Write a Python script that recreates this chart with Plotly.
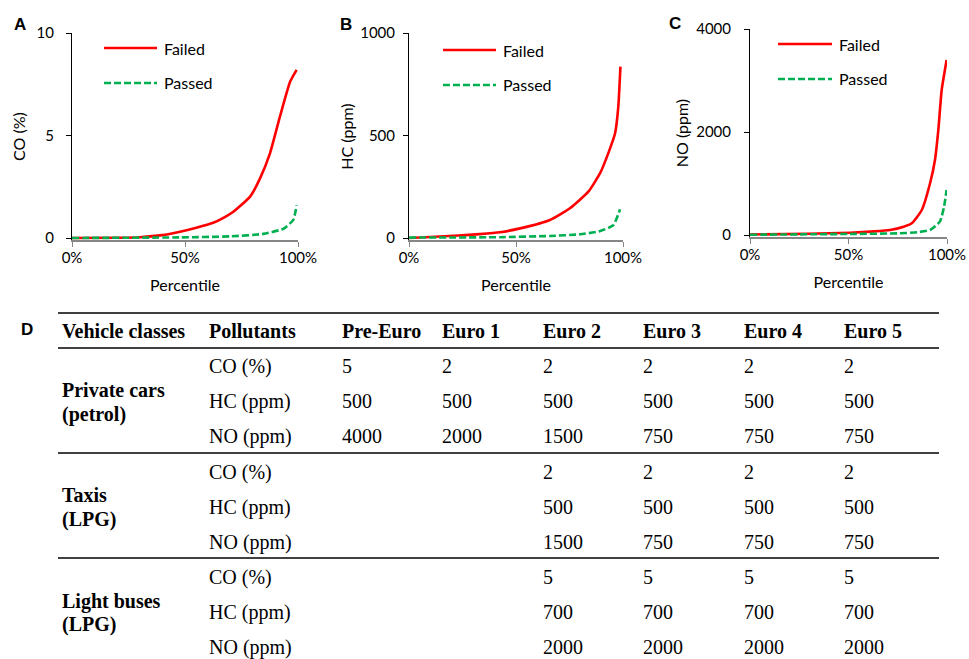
import plotly.graph_objects as go

# ---------------- data ----------------
pct_co_failed = [0, 20, 30, 40, 47.8, 55, 62.5, 67, 71.4, 78.8, 83.2, 87.6, 92, 96.5, 99.4]
co_failed = [0, 0.01, 0.04, 0.14, 0.31, 0.5, 0.74, 0.98, 1.28, 2.02, 2.91, 4.13, 5.92, 7.62, 8.2]
pct_co_passed = [0, 47.8, 70, 84.7, 93.5, 97.9, 99.4]
co_passed = [0, 0.03, 0.08, 0.2, 0.45, 0.88, 1.6]

pct_hc_failed = [0, 10, 23, 33, 42.5, 51.9, 65.9, 75.2, 83.8, 89.3, 93.1, 96.3, 97.8, 98.8]
hc_failed = [0, 5, 12, 19, 28, 47, 88, 145, 226, 316, 413, 511, 640, 836]
pct_hc_passed = [0, 42.5, 65.9, 80, 89.3, 95.5, 98.6]
hc_passed = [2, 4, 10, 18, 34, 63, 140]

pct_no_failed = [0, 30, 50.8, 63, 71.1, 78, 82.1, 87.2, 91.4, 93.9, 95.6, 97.3, 99.8]
no_failed = [10, 25, 45, 70, 97, 160, 227, 485, 1004, 1456, 2039, 2816, 3398]
pct_no_passed = [0, 50.8, 76, 85, 91.4, 96.4, 98.5, 99.8]
no_passed = [5, 20, 33, 55, 97, 259, 550, 874]

series_names = ["Failed", "Passed"]
x_tick_vals = [0, 50, 100]
x_tick_text = ["0%", "50%", "100%"]

# table
table_header = ["Vehicle classes", "Pollutants", "Pre-Euro", "Euro 1", "Euro 2", "Euro 3", "Euro 4", "Euro 5"]
vehicle_classes = [["Private cars", "(petrol)"], ["Taxis", "(LPG)"], ["Light buses", "(LPG)"]]
pollutants = ["CO (%)", "HC (ppm)", "NO (ppm)"]
limits_private = [["5", "2", "2", "2", "2", "2"],
                  ["500", "500", "500", "500", "500", "500"],
                  ["4000", "2000", "1500", "750", "750", "750"]]
limits_taxis = [["", "", "2", "2", "2", "2"],
                ["", "", "500", "500", "500", "500"],
                ["", "", "1500", "750", "750", "750"]]
limits_buses = [["", "", "5", "5", "5", "5"],
                ["", "", "700", "700", "700", "700"],
                ["", "", "2000", "2000", "2000", "2000"]]

# ---------------- layout helpers ----------------
W, H = 969, 659
def fx(p): return p / W
def fy(p): return 1 - p / H

RED = "#ff0000"
GREEN = "#00b050"
SANS = "Lato"
SERIF = "Liberation Serif"

fig = go.Figure()

panels = [
    dict(letter="A", letter_xy=(19.5, 25), x_px=(72, 298), top_px=33, zero_px=238,
         ymax=10, yticks=[0, 5, 10], ytitle="CO (%)", tstand=9, standoff=6,
         data=[(pct_co_failed, co_failed), (pct_co_passed, co_passed)],
         leg=(104, 157, 48, 83)),
    dict(letter="B", letter_xy=(346, 25), x_px=(409, 623), top_px=33, zero_px=238,
         ymax=1000, yticks=[0, 500, 1000], ytitle="HC (ppm)", tstand=5, standoff=2,
         data=[(pct_hc_failed, hc_failed), (pct_hc_passed, hc_passed)],
         leg=(443, 496, 50, 85)),
    dict(letter="C", letter_xy=(675, 24), x_px=(750, 947), top_px=29, zero_px=235,
         ymax=4000, yticks=[0, 2000, 4000], ytitle="NO (ppm)", tstand=10, standoff=3,
         data=[(pct_no_failed, no_failed), (pct_no_passed, no_passed)],
         leg=(778, 832, 44, 79)),
]

annotations = []
shapes = []
for i, p in enumerate(panels):
    n = "" if i == 0 else str(i + 1)
    xa, ya = "x" + n, "y" + n
    pad = p["ymax"] * 0.01
    ppu = (p["zero_px"] - p["top_px"]) / p["ymax"]
    bottom_px = p["zero_px"] + pad * ppu
    styles = [dict(color=RED, width=2.6), dict(color=GREEN, width=2.6, dash="7px,3px")]
    for (xs, ys), name, st in zip(p["data"], series_names, styles):
        fig.add_trace(go.Scatter(x=xs, y=ys, mode="lines", name=name,
                                 line=dict(shape="spline", smoothing=0.5, **st),
                                 showlegend=False, xaxis=xa, yaxis=ya))
    fig.update_layout(**{
        "xaxis" + n: dict(domain=[fx(p["x_px"][0]), fx(p["x_px"][1])], range=[0, 100], anchor=ya,
                          tickmode="array", tickvals=x_tick_vals, ticktext=x_tick_text,
                          showline=True, linecolor="#868686", linewidth=1.5,
                          ticks="outside", ticklen=5, tickcolor="#868686", showgrid=False, zeroline=False,
                          ticklabelstandoff=-2, layer="below traces",
                          tickfont=dict(family=SANS, size=15, color="#000"),
                          title=dict(text="Percentile", font=dict(family=SANS, size=16, color="#000"), standoff=15)),
        "yaxis" + n: dict(domain=[fy(bottom_px), fy(p["top_px"])], range=[-pad, p["ymax"]], anchor=xa,
                          tickmode="array", tickvals=p["yticks"], showline=True, linecolor="#000", linewidth=1,
                          ticks="outside", ticklen=5, tickcolor="#000", showgrid=False, zeroline=False,
                          ticklabelstandoff=p["tstand"], layer="below traces",
                          tickfont=dict(family=SANS, size=15, color="#000"),
                          title=dict(text=p["ytitle"], font=dict(family=SANS, size=16, color="#000"),
                                     standoff=p["standoff"])),
    })
    # panel letter
    annotations.append(dict(text="<b>%s</b>" % p["letter"], x=fx(p["letter_xy"][0]), y=fy(p["letter_xy"][1]),
                            xref="paper", yref="paper", showarrow=False, xanchor="center", yanchor="middle",
                            font=dict(family="Liberation Sans", size=17, color="#000")))
    # in-plot legend
    lx0, lx1, ly_f, ly_p = p["leg"]
    for ly, name, st in zip([ly_f, ly_p], series_names, styles):
        shapes.append(dict(type="line", xref="paper", yref="paper", x0=fx(lx0), x1=fx(lx1), y0=fy(ly), y1=fy(ly),
                           line=dict(color=st["color"], width=2.6, dash=st.get("dash", "solid"))))
        annotations.append(dict(text=name, x=fx(lx1 + 5), y=fy(ly), xref="paper", yref="paper", showarrow=False,
                                xanchor="left", yanchor="middle", font=dict(family=SANS, size=16, color="#000")))

# ---------------- table D ----------------
annotations.append(dict(text="<b>D</b>", x=fx(27), y=fy(329), xref="paper", yref="paper", showarrow=False,
                        xanchor="center", yanchor="middle", font=dict(family="Liberation Sans", size=17, color="#000")))
col_x = [60, 207, 340, 440, 541, 641, 742, 842]
header_y = 331
row_y = [[366, 401, 436], [472, 507, 542], [577, 612, 647]]
class_y = [[390, 414], [495, 519], [601, 624]]
rule_y = [313, 348, 453, 558]
tfont = dict(family=SERIF, size=20, color="#000")

for cx, txt in zip(col_x, table_header):
    annotations.append(dict(text="<b>%s</b>" % txt, x=fx(cx), y=fy(header_y), xref="paper", yref="paper",
                            showarrow=False, xanchor="left", yanchor="middle", font=tfont))
for g, (cls, ys, cys, vals) in enumerate(zip(vehicle_classes, row_y, class_y,
                                             [limits_private, limits_taxis, limits_buses])):
    for line_txt, cy in zip(cls, cys):
        annotations.append(dict(text="<b>%s</b>" % line_txt, x=fx(col_x[0]), y=fy(cy), xref="paper", yref="paper",
                                showarrow=False, xanchor="left", yanchor="middle", font=tfont))
    for r, (pol, ry) in enumerate(zip(pollutants, ys)):
        annotations.append(dict(text=pol, x=fx(col_x[1]), y=fy(ry), xref="paper", yref="paper",
                                showarrow=False, xanchor="left", yanchor="middle", font=tfont))
        for cx, v in zip(col_x[2:], vals[r]):
            if v:
                annotations.append(dict(text=v, x=fx(cx), y=fy(ry), xref="paper", yref="paper",
                                        showarrow=False, xanchor="left", yanchor="middle", font=tfont))
for ry in rule_y:
    shapes.append(dict(type="line", xref="paper", yref="paper", x0=fx(58), x1=fx(939), y0=fy(ry), y1=fy(ry),
                       line=dict(color="#000", width=1.3)))

fig.update_layout(width=W, height=H, margin=dict(l=0, r=0, t=0, b=0, autoexpand=False), paper_bgcolor="white",
                  plot_bgcolor="rgba(0,0,0,0)", annotations=annotations, shapes=shapes, showlegend=False,
                  hovermode=False)

# remove the default 8px page margin so the 969x659 figure fills the window exactly
fig.write_html("out.html", config={"displayModeBar": False, "staticPlot": True},
               post_script="document.body.style.margin='0';document.body.style.overflow='hidden';")
